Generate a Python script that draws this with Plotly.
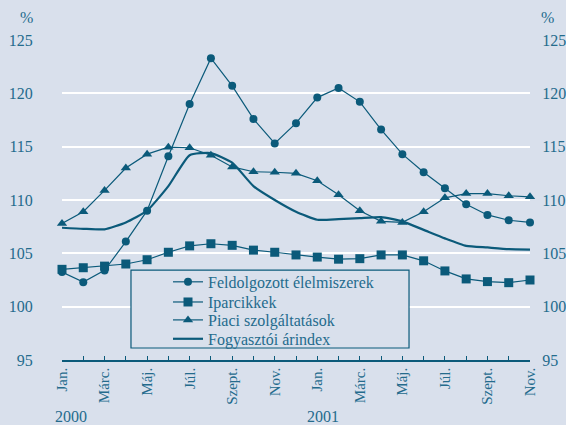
import plotly.graph_objects as go

# Havi adatok, 2000. jan. - 2001. nov.
months = ["Jan.", "", "Márc.", "", "Máj.", "", "Júl.", "", "Szept.", "", "Nov.", "",
          "Jan.", "", "Márc.", "", "Máj.", "", "Júl.", "", "Szept.", "", "Nov."]

feldolgozott = [103.25, 102.3, 103.4, 106.1, 109.0, 114.1, 119.0, 123.3, 120.7, 117.6,
                115.3, 117.2, 119.6, 120.5, 119.2, 116.6, 114.3, 112.6, 111.1, 109.6,
                108.6, 108.1, 107.9]
iparcikkek = [103.5, 103.65, 103.8, 104.0, 104.4, 105.1, 105.7, 105.9, 105.75, 105.3,
              105.1, 104.85, 104.65, 104.45, 104.5, 104.85, 104.85, 104.3, 103.35, 102.6,
              102.35, 102.25, 102.5]
piaci = [107.8, 108.9, 110.9, 113.0, 114.3, 114.95, 114.9, 114.2, 113.1, 112.65,
         112.6, 112.5, 111.8, 110.5, 109.0, 108.0, 107.9, 108.9, 110.2, 110.6,
         110.6, 110.4, 110.3]
fogyasztoi = [107.4, 107.3, 107.25, 107.9, 109.0, 111.3, 114.2, 114.4, 113.5, 111.3,
              110.0, 108.9, 108.15, 108.2, 108.3, 108.4, 108.0, 107.2, 106.4, 105.7,
              105.55, 105.4, 105.35]

x = list(range(len(months)))

TEAL = "#0b5a7a"
TEXT = "#246b8c"
BG = "#d9e0ec"
FONT = "Liberation Serif, Times New Roman, serif"
NOTICK = "rgba(0,0,0,0)"

fig = go.Figure()

fig.add_trace(go.Scatter(x=x, y=feldolgozott, name="Feldolgozott élelmiszerek",
                         mode="lines+markers", cliponaxis=False, legend="legend",
                         line=dict(color=TEAL, width=1.2),
                         marker=dict(symbol="circle", size=8, color=TEAL)))
fig.add_trace(go.Scatter(x=x, y=iparcikkek, name="Iparcikkek",
                         mode="lines+markers", cliponaxis=False, legend="legend2",
                         line=dict(color=TEAL, width=1.2),
                         marker=dict(symbol="square", size=9, color=TEAL)))
fig.add_trace(go.Scatter(x=x, y=piaci, name="Piaci szolgáltatások",
                         mode="lines+markers", cliponaxis=False, legend="legend3",
                         line=dict(color=TEAL, width=1.2),
                         marker=dict(symbol="triangle-up", size=9, color=TEAL)))
fig.add_trace(go.Scatter(x=x, y=fogyasztoi, name="Fogyasztói árindex",
                         mode="lines", cliponaxis=False, legend="legend4",
                         line=dict(color=TEAL, width=2.2, shape="spline", smoothing=0.5)))
# hidden trace so the right axis is drawn
fig.add_trace(go.Scatter(x=[0], y=[95], yaxis="y2", showlegend=False,
                         mode="markers", marker=dict(opacity=0), hoverinfo="skip"))


def legend_row(y):
    # one legend per row, so the row spacing can match the original
    return dict(x=0.2265, y=y, xanchor="left", yanchor="middle",
                bgcolor="rgba(0,0,0,0)", borderwidth=0,
                font=dict(family=FONT, size=16, color=TEXT), itemwidth=30)


fig.update_layout(
    width=566, height=425,
    margin=dict(l=62, r=36, t=40, b=65, autoexpand=False),
    paper_bgcolor=BG, plot_bgcolor=BG,
    font=dict(family=FONT, size=15, color=TEXT),
    showlegend=True,
    legend=legend_row(0.244),
    legend2=legend_row(0.181),
    legend3=legend_row(0.125),
    legend4=legend_row(0.066),
    xaxis=dict(range=[0, 22], tickvals=x, ticktext=months, tickangle=-90,
               ticks="inside", ticklen=4, tickcolor=TEAL, tickwidth=1.2,
               showline=True, linecolor=TEAL, linewidth=1.5,
               showgrid=False, zeroline=False,
               tickfont=dict(family=FONT, size=15, color=TEXT)),
    yaxis=dict(range=[95, 125], dtick=5, showgrid=True, gridcolor="white",
               gridwidth=2, zeroline=False, showline=False,
               ticks="outside", ticklen=25, tickcolor=NOTICK,
               tickfont=dict(family=FONT, size=16, color=TEXT)),
    yaxis2=dict(range=[95, 125], dtick=5, overlaying="y", side="right",
                showgrid=False, zeroline=False, showline=False,
                ticks="outside", ticklen=8, tickcolor=NOTICK,
                tickfont=dict(family=FONT, size=16, color=TEXT)),
)

# legend frame, drawn over the lines
fig.add_shape(type="rect", xref="paper", yref="paper",
              x0=0.1474, x1=0.7415, y0=0.0375, y1=0.281,
              fillcolor=BG, line=dict(color=TEAL, width=1.2), layer="above")

fig.add_annotation(text="%", xref="paper", yref="paper", x=-0.094, y=1.069,
                   yanchor="middle", showarrow=False, font=dict(size=16, color=TEXT))
fig.add_annotation(text="%", xref="paper", yref="paper", x=1.056, y=1.069,
                   yanchor="middle", showarrow=False, font=dict(size=16, color=TEXT))
fig.add_annotation(text="2000", xref="x", yref="paper", x=0.42, y=-0.176,
                   yanchor="middle", showarrow=False, font=dict(size=16, color=TEXT))
fig.add_annotation(text="2001", xref="x", yref="paper", x=12.25, y=-0.176,
                   yanchor="middle", showarrow=False, font=dict(size=16, color=TEXT))

fig.write_html("out.html", config={"displayModeBar": False},
               post_script="document.body.style.margin='0';")
